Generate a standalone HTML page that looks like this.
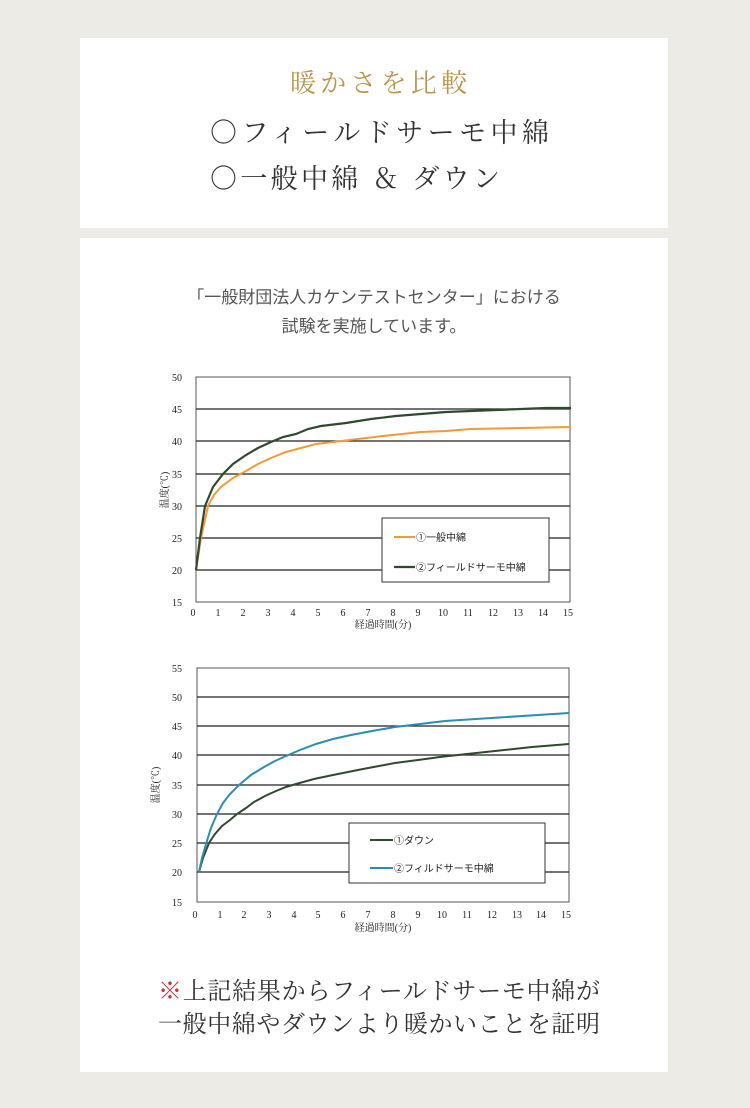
<!DOCTYPE html>
<html><head><meta charset="utf-8"><style>html,body{margin:0;padding:0;background:#ecebe6}svg{display:block}</style></head>
<body>
<svg width="750" height="1108" viewBox="0 0 750 1108" xmlns="http://www.w3.org/2000/svg">
<rect width="750" height="1108" fill="#ecebe6"/>
<rect x="80" y="38" width="588" height="190" fill="#fff"/>
<rect x="80" y="238" width="588" height="834" fill="#fff"/>
<g font-family="'Noto Serif CJK JP','Noto Serif CJK SC',serif">
<text x="290" y="92" font-size="26" fill="#b8954a" textLength="177" lengthAdjust="spacing">暖かさを比較</text>
<text x="210" y="142" font-size="27" fill="#333" textLength="339" lengthAdjust="spacing">○フィールドサーモ中綿</text>
<text x="210" y="188" font-size="27" fill="#333" textLength="290" lengthAdjust="spacing">○一般中綿 ＆ ダウン</text>
<text x="158" y="999" font-size="24" fill="#333" textLength="442" lengthAdjust="spacing"><tspan fill="#c8363b">※</tspan>上記結果からフィールドサーモ中綿が</text>
<text x="158" y="1032" font-size="24" fill="#333" textLength="442" lengthAdjust="spacing">一般中綿やダウンより暖かいことを証明</text>
</g>
<g font-family="'Liberation Sans','Noto Sans CJK JP',sans-serif" fill="#555" font-size="17">
<text x="374" y="303" text-anchor="middle">「一般財団法人カケンテストセンター」における</text>
<text x="374" y="332" text-anchor="middle">試験を実施しています。</text>
</g>
<!-- Chart 1 -->
<g font-family="'Liberation Serif','Noto Serif CJK JP',serif" font-size="10" fill="#222">
<rect x="196" y="377" width="374" height="225" fill="#fff" stroke="#555" stroke-width="1"/>
<g stroke="#222" stroke-width="1.2">
<line x1="196" y1="409" x2="570" y2="409"/><line x1="196" y1="441" x2="570" y2="441"/>
<line x1="196" y1="474" x2="570" y2="474"/><line x1="196" y1="506" x2="570" y2="506"/>
<line x1="196" y1="538" x2="570" y2="538"/><line x1="196" y1="570" x2="570" y2="570"/>
</g>
<g text-anchor="end">
<text x="182" y="381">50</text><text x="182" y="413">45</text><text x="182" y="445">40</text><text x="182" y="478">35</text><text x="182" y="510">30</text><text x="182" y="542">25</text><text x="182" y="574">20</text><text x="182" y="606">15</text>
</g>
<g text-anchor="middle">
<text x="193" y="616">0</text><text x="218" y="616">1</text><text x="243" y="616">2</text><text x="268" y="616">3</text><text x="293" y="616">4</text><text x="318" y="616">5</text><text x="343" y="616">6</text><text x="368" y="616">7</text><text x="393" y="616">8</text><text x="418" y="616">9</text><text x="443" y="616">10</text><text x="468" y="616">11</text><text x="493" y="616">12</text><text x="518" y="616">13</text><text x="543" y="616">14</text><text x="568" y="616">15</text>
<text x="383" y="628">経過時間(分)</text>
</g>
<text transform="translate(168,490) rotate(-90)" text-anchor="middle">温度(℃)</text>
<polyline fill="none" stroke="#f29a35" stroke-width="2" points="196,570 201,538 208,506 214,495 221,487 233,478 246,471 258,464 271,458 286,452 301,448 316,444 333,442 358,439 383,436 421,432 446,431 471,429 521,428 571,427"/>
<polyline fill="none" stroke="#2f4a2f" stroke-width="2.2" points="196,570 200,538 205,506 213,487 223,474 233,464 246,455 258,448 271,442 283,437 296,434 308,429 321,426 346,423 371,419 396,416 421,414 446,412 471,411 496,410 521,409 546,408 571,408"/>
<rect x="382" y="518" width="167" height="64" fill="#fff" stroke="#333"/>
<line x1="394" y1="537" x2="415" y2="537" stroke="#f29a35" stroke-width="2"/>
<line x1="394" y1="567" x2="415" y2="567" stroke="#2f4a2f" stroke-width="2.2"/>
<text x="416" y="541" font-family="'Liberation Sans','Noto Sans CJK JP',sans-serif">①一般中綿</text>
<text x="416" y="571" font-family="'Liberation Sans','Noto Sans CJK JP',sans-serif">②フィールドサーモ中綿</text>
</g>
<!-- Chart 2 -->
<g font-family="'Liberation Serif','Noto Serif CJK JP',serif" font-size="10" fill="#222">
<rect x="197" y="668" width="372" height="234" fill="#fff" stroke="#555" stroke-width="1"/>
<g stroke="#222" stroke-width="1.2">
<line x1="197" y1="697" x2="569" y2="697"/><line x1="197" y1="726" x2="569" y2="726"/>
<line x1="197" y1="755" x2="569" y2="755"/><line x1="197" y1="785" x2="569" y2="785"/>
<line x1="197" y1="814" x2="569" y2="814"/><line x1="197" y1="843" x2="569" y2="843"/>
<line x1="197" y1="872" x2="569" y2="872"/>
</g>
<g text-anchor="end">
<text x="182" y="672">55</text><text x="182" y="701">50</text><text x="182" y="730">45</text><text x="182" y="759">40</text><text x="182" y="789">35</text><text x="182" y="818">30</text><text x="182" y="847">25</text><text x="182" y="876">20</text><text x="182" y="906">15</text>
</g>
<g text-anchor="middle">
<text x="195" y="918">0</text><text x="220" y="918">1</text><text x="244" y="918">2</text><text x="269" y="918">3</text><text x="294" y="918">4</text><text x="318" y="918">5</text><text x="343" y="918">6</text><text x="368" y="918">7</text><text x="393" y="918">8</text><text x="418" y="918">9</text><text x="442" y="918">10</text><text x="467" y="918">11</text><text x="492" y="918">12</text><text x="517" y="918">13</text><text x="541" y="918">14</text><text x="566" y="918">15</text>
<text x="383" y="931">経過時間(分)</text>
</g>
<text transform="translate(159,785) rotate(-90)" text-anchor="middle">温度(℃)</text>
<polyline fill="none" stroke="#2f4a2f" stroke-width="2" points="199,872 203,858 209,843 215,834 222,826 230,820 237,814 246,808 254,802 265,796 276,791 286,787 296,784 314,779 333,775 348,772 363,769 379,766 395,763 418,760 440,757 467,754 495,751 532,747 569,744"/>
<polyline fill="none" stroke="#2d8db0" stroke-width="2" points="199,872 202,858 206,844 211,828 217,814 223,803 230,794 239,785 251,775 264,767 275,761 286,756 300,750 316,744 333,739 351,735 372,731 395,727 420,724 445,721 476,719 507,717 538,715 569,713"/>
<rect x="349" y="823" width="196" height="60" fill="#fff" stroke="#333"/>
<line x1="370" y1="840" x2="393" y2="840" stroke="#2f4a2f" stroke-width="2"/>
<line x1="370" y1="868" x2="393" y2="868" stroke="#2d8db0" stroke-width="2"/>
<text x="394" y="844" font-family="'Liberation Sans','Noto Sans CJK JP',sans-serif">①ダウン</text>
<text x="394" y="872" font-family="'Liberation Sans','Noto Sans CJK JP',sans-serif">②フィルドサーモ中綿</text>
</g>
</svg>
</body></html>
